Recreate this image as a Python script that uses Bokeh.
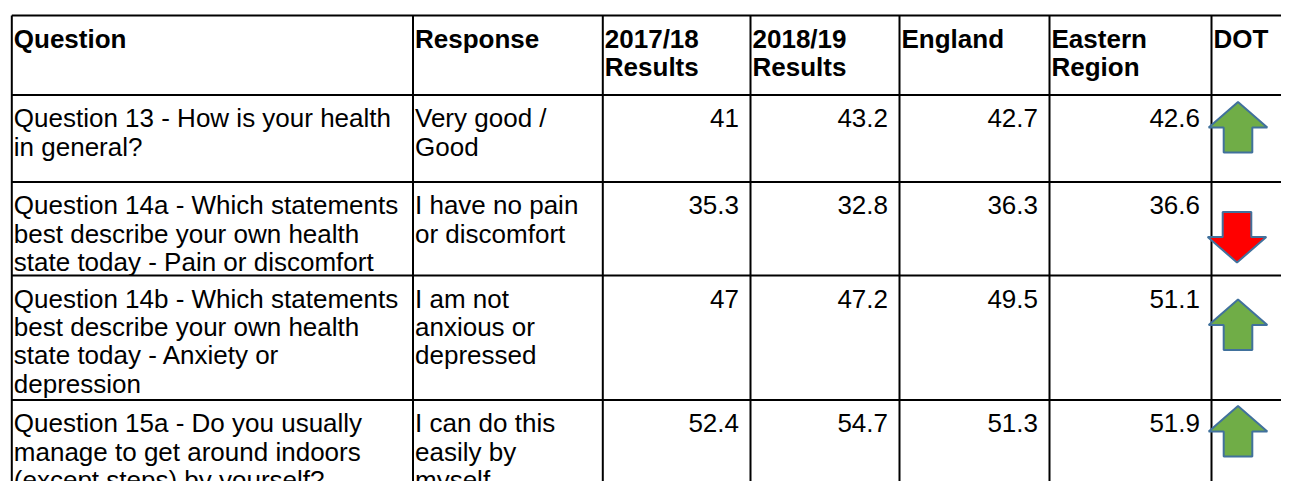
from bokeh.plotting import figure
from bokeh.models import Range1d, ColumnDataSource
from bokeh.core.properties import value
from bokeh.embed import file_html
from bokeh.resources import INLINE

# ---------------- data ----------------
headers = ["Question", "Response", "2017/18\nResults", "2018/19\nResults",
           "England", "Eastern\nRegion", "DOT"]
questions = [
    "Question 13 - How is your health\nin general?",
    "Question 14a - Which statements\nbest describe your own health\nstate today - Pain or discomfort",
    "Question 14b - Which statements\nbest describe your own health\nstate today -  Anxiety or\ndepression",
    "Question 15a - Do you usually\nmanage to get around indoors\n(except steps) by yourself?",
]
responses = [
    "Very good /\nGood",
    "I have no pain\nor discomfort",
    "I am not\nanxious or\ndepressed",
    "I can do this\neasily by\nmyself",
]
results_2017_18 = [41, 35.3, 47, 52.4]
results_2018_19 = [43.2, 32.8, 47.2, 54.7]
england = [42.7, 36.3, 49.5, 51.3]
eastern_region = [42.6, 36.6, 51.1, 51.9]
dot = ["up", "down", "up", "up"]

# ---------------- layout (pixels) ----------------
COL_EDGES = [11.3, 412.5, 602.3, 750, 899, 1049, 1211, 1330]
ROW_EDGES = [15, 94.5, 181.5, 275, 399.5, 530]
FIRST_BASE = 23.3
LINE_H = 28.3
PAD_L = 2.0
PAD_R = 11.5
ARROW_TOP = [7, 30, 24, 6]
ARROW_CX = 1237.5
ARROW_HEAD_W = 29.3
ARROW_SHAFT_W = 14.3
ARROW_HEAD_H = 25.5
ARROW_H = 50.5
FONT = "Liberation Sans"
SIZE = "26px"

W, H = 1281, 481
p = figure(width=W, height=H, x_range=Range1d(0, W), y_range=Range1d(H, 0),
           output_backend="svg", toolbar_location=None, min_border=0,
           x_axis_type=None, y_axis_type=None)
p.grid.visible = False
p.outline_line_color = None
p.background_fill_color = "white"
p.border_fill_color = "white"

# header texts
hx, hy, ht = [], [], []
for ci, h in enumerate(headers):
    for li, line in enumerate(h.split("\n")):
        hx.append(COL_EDGES[ci] + PAD_L)
        hy.append(ROW_EDGES[0] + FIRST_BASE + li * LINE_H)
        ht.append(line)
p.text(x="x", y="y", text="t", source=ColumnDataSource(dict(x=hx, y=hy, t=ht)),
       text_font=value(FONT), text_font_size=value(SIZE), text_font_style="bold",
       text_baseline="alphabetic", text_align="left", text_color="black")

# body left texts
bx, by, bt = [], [], []
for ri in range(len(questions)):
    for ci, col in enumerate([questions, responses]):
        for li, line in enumerate(col[ri].split("\n")):
            bx.append(COL_EDGES[ci] + PAD_L)
            by.append(ROW_EDGES[ri + 1] + FIRST_BASE + li * LINE_H)
            bt.append(line)
p.text(x="x", y="y", text="t", source=ColumnDataSource(dict(x=bx, y=by, t=bt)),
       text_font=value(FONT), text_font_size=value(SIZE),
       text_baseline="alphabetic", text_align="left", text_color="black")

# numbers right aligned
nx, ny, nt = [], [], []
for ri in range(len(questions)):
    for k, col in enumerate([results_2017_18, results_2018_19, england, eastern_region]):
        nx.append(COL_EDGES[k + 3] - PAD_R)
        ny.append(ROW_EDGES[ri + 1] + FIRST_BASE)
        nt.append(f"{col[ri]:g}")
p.text(x="x", y="y", text="t", source=ColumnDataSource(dict(x=nx, y=ny, t=nt)),
       text_font=value(FONT), text_font_size=value(SIZE),
       text_baseline="alphabetic", text_align="right", text_color="black")

# grid lines
x0s, y0s, x1s, y1s = [], [], [], []
for x in COL_EDGES[:-1]:
    x0s.append(x); y0s.append(ROW_EDGES[0]); x1s.append(x); y1s.append(ROW_EDGES[-1])
for y in ROW_EDGES[:-1]:
    x0s.append(COL_EDGES[0]); y0s.append(y); x1s.append(COL_EDGES[-1]); y1s.append(y)
p.segment(x0=x0s, y0=y0s, x1=x1s, y1=y1s, line_color="black", line_width=2)

# arrows
up_shape = [(0, 0), (ARROW_HEAD_W, ARROW_HEAD_H), (ARROW_SHAFT_W, ARROW_HEAD_H),
            (ARROW_SHAFT_W, ARROW_H), (-ARROW_SHAFT_W, ARROW_H),
            (-ARROW_SHAFT_W, ARROW_HEAD_H), (-ARROW_HEAD_W, ARROW_HEAD_H)]
axs, ays, afill = [], [], []
for ri, d in enumerate(dot):
    top = ROW_EDGES[ri + 1] + ARROW_TOP[ri]
    if d == "up":
        axs.append([ARROW_CX + dx for dx, dy in up_shape])
        ays.append([top + dy for dx, dy in up_shape])
        afill.append("#70AD47")
    else:
        axs.append([ARROW_CX - 1 + dx for dx, dy in up_shape])
        ays.append([top + (ARROW_H - dy) for dx, dy in up_shape])
        afill.append("#FF0000")
p.patches(xs=axs, ys=ays, fill_color=afill, line_color="#41719C", line_width=2)

open("out.html", "w").write(file_html(p, INLINE))
